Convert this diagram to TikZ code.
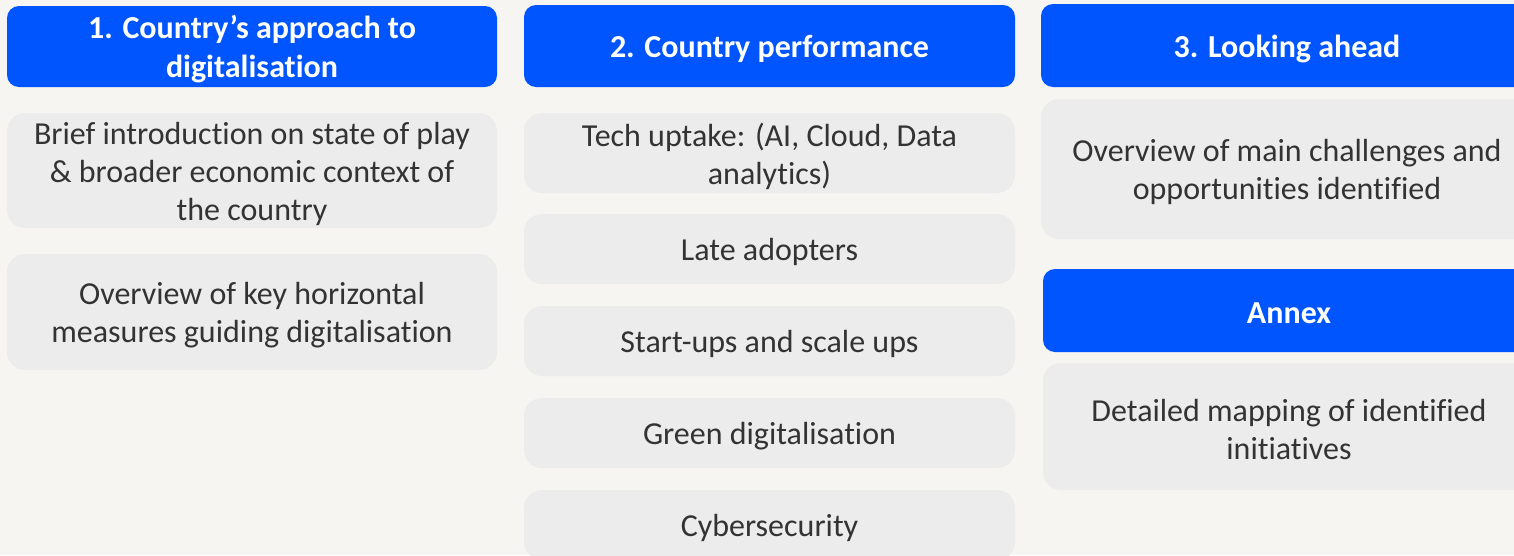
\documentclass[tikz,border=0pt]{standalone}
\usepackage{fontspec}
\setmainfont{Carlito}[Ligatures={NoCommon}]
\definecolor{pagebg}{HTML}{F6F5F2}
\definecolor{headblue}{HTML}{0055FF}
\definecolor{itemgray}{HTML}{ECECEC}
\definecolor{itemtext}{HTML}{333333}
\begin{document}
\begin{tikzpicture}[x=1pt,y=-1pt,
  headbox/.style={fill=headblue, rounded corners=12pt, inner sep=0pt},
  itembox/.style={fill=itemgray, rounded corners=18pt, inner sep=0pt},
  headtext/.style={inner sep=0pt, align=center, text=white,
    font=\fontsize{32}{39}\selectfont\bfseries},
  itemtext/.style={inner sep=0pt, align=center, text=itemtext,
    font=\fontsize{32}{38}\selectfont},
]
\fill[pagebg] (0,0) rectangle (1514,555);
\useasboundingbox (0,0) rectangle (1514,555);

% column 1: approach
\node[headbox, minimum width=490pt, minimum height=81pt] (h1) at (252,46.5) {};
\node[headtext] (h1t) at ([yshift=-3pt]h1.center) {1. Country’s approach to\\digitalisation};
\node[itembox, minimum width=490pt, minimum height=115pt] (b11) at (252,170.5) {};
\node[itemtext] (b11t) at ([yshift=-3pt]b11.center)
  {Brief introduction on state of play\\\& broader economic context of\\the country};
\node[itembox, minimum width=490pt, minimum height=116pt] (b12) at (252,312) {};
\node[itemtext] (b12t) at ([yshift=-3pt]b12.center)
  {Overview of key horizontal\\measures guiding digitalisation};

% column 2: performance
\node[headbox, minimum width=491pt, minimum height=82pt] (h2) at (769.5,46) {};
\node[headtext] (h2t) at ([yshift=-3pt]h2.center) {2. Country performance};
\node[itembox, minimum width=491pt, minimum height=80pt] (b21) at (769.5,153) {};
\node[itemtext] (b21t) at ([yshift=-3pt]b21.center) {Tech uptake: (AI, Cloud, Data\\analytics)};
\node[itembox, minimum width=491pt, minimum height=70pt] (b22) at (769.5,249) {};
\node[itemtext] (b22t) at ([yshift=-3pt]b22.center) {Late adopters};
\node[itembox, minimum width=491pt, minimum height=70pt] (b23) at (769.5,341) {};
\node[itemtext] (b23t) at ([yshift=-3pt]b23.center) {Start-ups and scale ups};
\node[itembox, minimum width=491pt, minimum height=70pt] (b24) at (769.5,433) {};
\node[itemtext] (b24t) at ([yshift=-3pt]b24.center) {Green digitalisation};
\node[itembox, minimum width=491pt, minimum height=70pt] (b25) at (769.5,525) {};
\node[itemtext] (b25t) at ([yshift=-3pt]b25.center) {Cybersecurity};

% column 3: outlook and annex
\node[headbox, minimum width=492pt, minimum height=83pt] (h3) at (1287,45.5) {};
\node[headtext] (h3t) at ([yshift=-3pt]h3.center) {3. Looking ahead};
\node[itembox, minimum width=492pt, minimum height=140pt] (b31) at (1287,169) {};
\node[itemtext] (b31t) at ([yshift=-3pt]b31.center)
  {Overview of main challenges and\\opportunities identified};
\node[headbox, minimum width=492pt, minimum height=83pt] (h4) at (1289,310.5) {};
\node[headtext] (h4t) at ([yshift=-3pt]h4.center) {Annex};
\node[itembox, minimum width=492pt, minimum height=127pt] (b41) at (1289,426.5) {};
\node[itemtext] (b41t) at ([yshift=-3pt]b41.center)
  {Detailed mapping of identified\\initiatives};
\end{tikzpicture}
\end{document}
